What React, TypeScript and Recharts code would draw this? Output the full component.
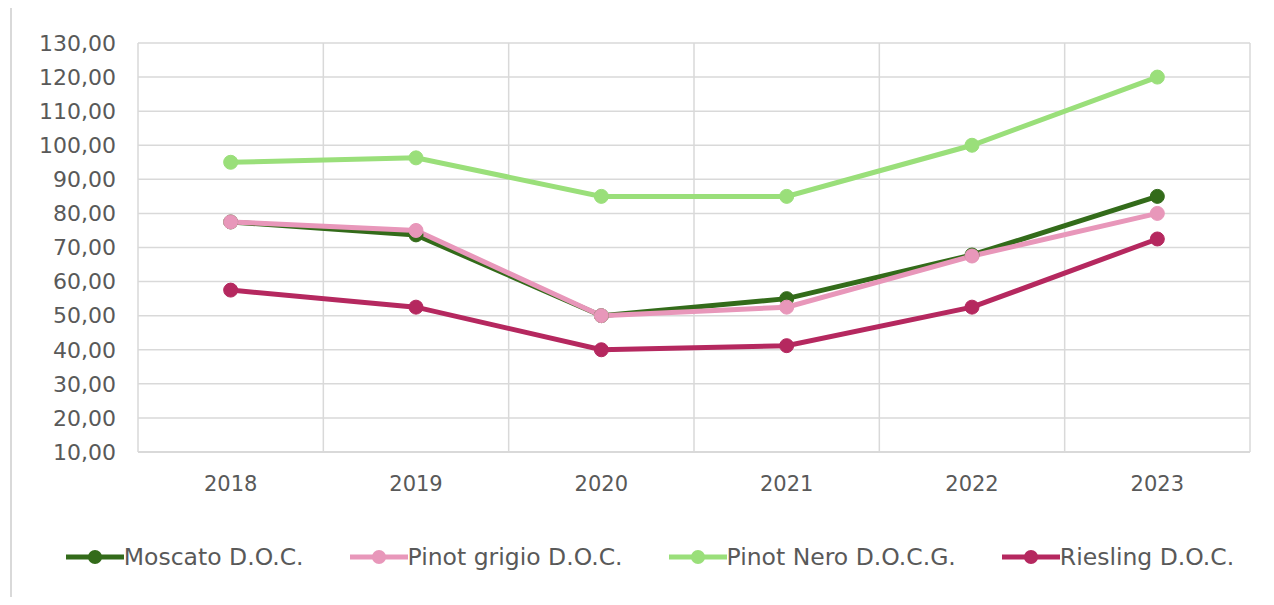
import React from "react";
import { CartesianGrid, Line, LineChart, XAxis, YAxis } from "recharts";

const years = ["2018", "2019", "2020", "2021", "2022", "2023"];
const moscato = [77.5, 73.7, 50, 55, 67.8, 85];
const pinotGrigio = [77.5, 75, 50, 52.5, 67.5, 80];
const pinotNero = [95, 96.3, 85, 85, 100, 120];
const riesling = [57.5, 52.5, 40, 41.2, 52.5, 72.5];
const yTicks = [10, 20, 30, 40, 50, 60, 70, 80, 90, 100, 110, 120, 130];

const series = [
  { key: "moscato", name: "Moscato D.O.C.", color: "#336B1A" },
  { key: "pinotGrigio", name: "Pinot grigio D.O.C.", color: "#E897BA" },
  { key: "pinotNero", name: "Pinot Nero D.O.C.G.", color: "#9ADF7A" },
  { key: "riesling", name: "Riesling D.O.C.", color: "#B5285F" },
];

const data = years.map((year, i) => ({
  year,
  moscato: moscato[i],
  pinotGrigio: pinotGrigio[i],
  pinotNero: pinotNero[i],
  riesling: riesling[i],
}));

const FONT = "'DejaVu Sans', sans-serif";
const TEXT = "#595959";
const GRID = "#d9d9d9";

const fmt = (v: number) => v.toFixed(2).replace(".", ",");

const ChartLegend = () => (
  <div
    style={{
      position: "absolute",
      top: 543,
      left: 0,
      width: 1300,
      display: "flex",
      justifyContent: "center",
      gap: 46,
      fontFamily: FONT,
      fontSize: 23.5,
      color: TEXT,
    }}
  >
    {series.map((s) => (
      <div key={s.key} style={{ display: "flex", alignItems: "center" }}>
        <svg width={58} height={16}>
          <line x1={0} y1={8} x2={58} y2={8} stroke={s.color} strokeWidth={5} strokeLinecap="round" />
          <circle cx={29} cy={8} r={7} fill={s.color} />
        </svg>
        <span>{s.name}</span>
      </div>
    ))}
  </div>
);

const App: React.FC = () => {
  return (
    <div
      style={{
        position: "relative",
        margin: -8,
        width: 1274,
        height: 605,
        overflow: "hidden",
        background: "#fff",
      }}
    >
      <div
        style={{
          position: "absolute",
          left: 10,
          top: 6,
          width: 1300,
          height: 640,
          borderTop: `2px solid ${GRID}`,
          borderLeft: `2px solid ${GRID}`,
        }}
      />
      <div style={{ position: "absolute", left: 0, top: 0 }}>
        <LineChart
          width={1274}
          height={605}
          data={data}
          margin={{ top: 43, right: 24, left: 0, bottom: 93 }}
        >
          <CartesianGrid
            stroke={GRID}
            strokeWidth={1.5}
            verticalCoordinatesGenerator={({ offset }: any) =>
              years
                .map((_, i) => offset.left + (i * offset.width) / years.length)
                .concat([offset.left + offset.width])
            }
          />
          <XAxis
            dataKey="year"
            scale="band"
            tickLine={false}
            tickSize={0}
            tickMargin={24}
            axisLine={{ stroke: GRID, strokeWidth: 2 }}
            tick={{ fill: TEXT, fontSize: 21, fontFamily: FONT }}
            height={60}
          />
          <YAxis
            domain={[10, 130]}
            ticks={yTicks}
            interval={0}
            tickFormatter={fmt}
            tickLine={false}
            tickSize={0}
            tickMargin={22}
            axisLine={false}
            width={138}
            tick={{ fill: TEXT, fontSize: 22, fontFamily: FONT }}
          />
          {series.map((s) => (
            <Line
              key={s.key}
              dataKey={s.key}
              name={s.name}
              stroke={s.color}
              strokeWidth={5}
              dot={{ r: 7, fill: s.color, stroke: s.color, strokeWidth: 1 }}
              activeDot={false}
              isAnimationActive={false}
            />
          ))}
        </LineChart>
      </div>
      <ChartLegend />
    </div>
  );
};

export default App;
